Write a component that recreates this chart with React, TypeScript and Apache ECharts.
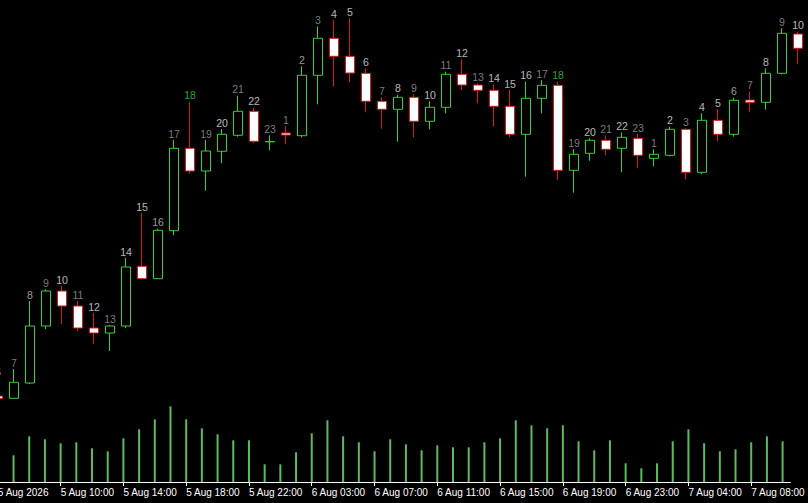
import React, { useEffect, useRef } from "react";
import * as echarts from "echarts";

// Hourly candles (5 Aug 06:00 .. 7 Aug 10:00, no 00:00 bar)
const categories = [
  "5 Aug 06:00", "5 Aug 07:00", "5 Aug 08:00", "5 Aug 09:00", "5 Aug 10:00", "5 Aug 11:00",
  "5 Aug 12:00", "5 Aug 13:00", "5 Aug 14:00", "5 Aug 15:00", "5 Aug 16:00", "5 Aug 17:00",
  "5 Aug 18:00", "5 Aug 19:00", "5 Aug 20:00", "5 Aug 21:00", "5 Aug 22:00", "5 Aug 23:00",
  "6 Aug 01:00", "6 Aug 02:00", "6 Aug 03:00", "6 Aug 04:00", "6 Aug 05:00", "6 Aug 06:00",
  "6 Aug 07:00", "6 Aug 08:00", "6 Aug 09:00", "6 Aug 10:00", "6 Aug 11:00", "6 Aug 12:00",
  "6 Aug 13:00", "6 Aug 14:00", "6 Aug 15:00", "6 Aug 16:00", "6 Aug 17:00", "6 Aug 18:00",
  "6 Aug 19:00", "6 Aug 20:00", "6 Aug 21:00", "6 Aug 22:00", "6 Aug 23:00",
  "7 Aug 01:00", "7 Aug 02:00", "7 Aug 03:00", "7 Aug 04:00", "7 Aug 05:00", "7 Aug 06:00",
  "7 Aug 07:00", "7 Aug 08:00", "7 Aug 09:00", "7 Aug 10:00",
];

const firstTickLabel = "5 Aug 2026";

const opens = [
  2404, 2401.7, 2417, 2474, 2509, 2494, 2472, 2467, 2474, 2533.7, 2521.3, 2569.3, 2651.7,
  2629, 2648.7, 2664.7, 2688.7, 2658.2, 2667, 2664.3, 2724.7, 2761.7, 2743.7, 2726.7,
  2698.7, 2690.7, 2702.7, 2678.7, 2692.7, 2725.7, 2715, 2709.7, 2693.7, 2665.7, 2701.7,
  2714.7, 2629.7, 2646.7, 2659.7, 2651.7, 2661.7, 2641.7, 2644.7, 2670.7, 2627.7, 2679.7,
  2665.7, 2700, 2697.7, 2726.7, 2766,
];
const closes = [
  2401.3, 2417.7, 2474, 2509, 2494, 2472, 2467, 2474, 2533, 2521.3, 2569.7, 2651.7, 2629,
  2649, 2665.7, 2688.7, 2658.7, 2658.4, 2665, 2724.7, 2761.7, 2743.7, 2727, 2698.7,
  2690.7, 2702.7, 2678.7, 2692.7, 2725.7, 2715, 2709.7, 2693.7, 2665.7, 2701.7, 2714.7,
  2629.7, 2645.7, 2659.7, 2650.7, 2662.7, 2644.7, 2645.7, 2670.7, 2627.7, 2679.7, 2665.7,
  2699.7, 2697.7, 2726.7, 2766.7, 2751.7,
];
const lows = [
  2401, 2401.5, 2416, 2471, 2476, 2469, 2456, 2449, 2472, 2520.7, 2521, 2564.7, 2626.3,
  2609.3, 2636.7, 2663.3, 2656.7, 2649.7, 2655.7, 2662.7, 2695.7, 2713.3, 2717.7, 2687.7,
  2671.3, 2658.3, 2662.7, 2670.7, 2686.7, 2710, 2696.7, 2673.3, 2662.7, 2623.3, 2686.7,
  2620.3, 2607.3, 2639.3, 2644.7, 2627.7, 2631.7, 2633.7, 2643.7, 2620.7, 2625.7, 2658.7,
  2663.3, 2687.7, 2690.3, 2725.7, 2735.7,
];
const highs = [
  2422, 2431, 2499, 2510.7, 2514, 2499, 2487, 2475, 2542, 2586.7, 2571.3, 2660, 2698.3,
  2660, 2671, 2704.3, 2692.3, 2664.7, 2674, 2733.7, 2773.7, 2780, 2781.7, 2731.7,
  2702.7, 2705.3, 2705.7, 2698.7, 2728.3, 2740.7, 2716.7, 2715.7, 2710, 2718.3, 2720,
  2718.3, 2651, 2661.7, 2664.7, 2667.7, 2666, 2650.7, 2673.3, 2671.7, 2686.7, 2691,
  2702.3, 2708.3, 2731.7, 2771.7, 2768.3,
];
const volumes = [
  300, 267, 457, 427, 387, 397, 337, 307, 437, 527, 627, 757, 627, 537, 477, 417, 417, 177,
  177, 297, 487, 617, 457, 397, 307, 427, 377, 317, 367, 347, 347, 397, 437, 617, 567, 537,
  567, 407, 317, 417, 187, 137, 187, 407, 527, 387, 307, 327, 397, 457, 407,
];

// style: hour-label tone per candle
const toneColors: Record<string, string> = {
  g: "#9c9c9c",
  l: "#c4c4c4",
  w: "#e6e6e6",
  G: "#3ccf3c",
};
const labelTones = [
  "w", "g", "l", "g", "w", "g", "w", "g", "w", "w", "l", "g", "G", "g", "w", "g", "w", "g",
  "g", "l", "g", "w", "w", "w", "g", "w", "g", "w", "g", "w", "g", "w", "w", "w", "g", "G",
  "g", "w", "g", "w", "g", "g", "w", "g", "w", "w", "l", "g", "w", "g", "w",
];

export default function App() {
  const ref = useRef<HTMLDivElement>(null);

  useEffect(() => {
    if (!ref.current) return;
    const chart = echarts.init(ref.current, null, { renderer: "svg" });

    const candleData = categories.map((_, i) => [opens[i], closes[i], lows[i], highs[i]]);
    const hourLabels = categories.map((c, i) => ({
      value: [i, highs[i]],
      hour: String(parseInt(c.split(" ")[2].split(":")[0], 10)),
      label: { color: toneColors[labelTones[i]] },
    }));

    chart.setOption({
      animation: false,
      backgroundColor: "#000000",
      grid: [
        { left: 0, right: 2, top: 0, bottom: 0 },
        { left: 0, right: 2, top: 382, bottom: 21 },
      ],
      xAxis: [
        {
          type: "category",
          gridIndex: 0,
          data: categories,
          boundaryGap: true,
          show: false,
        },
        {
          type: "category",
          gridIndex: 1,
          data: categories,
          boundaryGap: true,
          axisLine: { show: true, lineStyle: { color: "#ffffff", width: 1 } },
          axisTick: {
            show: true,
            alignWithLabel: true,
            interval: 3,
            length: 4,
            lineStyle: { color: "#ffffff", width: 1 },
          },
          axisLabel: {
            show: true,
            interval: 3,
            align: "left",
            margin: 5,
            color: "#ffffff",
            fontFamily: "Liberation Sans, Arial, sans-serif",
            fontSize: 10,
            formatter: (v: string, i: number) => (i === 0 ? firstTickLabel : v),
          },
          splitLine: { show: false },
        },
      ],
      yAxis: [
        { type: "value", gridIndex: 0, min: 2297, max: 2800, show: false, splitLine: { show: false } },
        { type: "value", gridIndex: 1, min: 0, max: 1000, show: false, splitLine: { show: false } },
      ],
      series: [
        {
          type: "bar",
          xAxisIndex: 1,
          yAxisIndex: 1,
          data: volumes,
          barWidth: 2,
          itemStyle: { color: "#5fba5f" },
          silent: true,
        },
        {
          type: "candlestick",
          xAxisIndex: 0,
          yAxisIndex: 0,
          data: candleData,
          barWidth: 9,
          itemStyle: {
            color: "#000000",
            color0: "#ffffff",
            borderColor: "#38d038",
            borderColor0: "#d01c1c",
            borderWidth: 1,
          },
          silent: true,
        },
        {
          type: "scatter",
          xAxisIndex: 0,
          yAxisIndex: 0,
          data: hourLabels,
          symbolSize: 0,
          silent: true,
          label: {
            show: true,
            position: "top",
            distance: 1,
            fontFamily: "Liberation Sans, Arial, sans-serif",
            fontSize: 10.5,
            formatter: (p: any) => p.data.hour,
          },
        },
      ],
    });

    return () => chart.dispose();
  }, []);

  return (
    <div
      ref={ref}
      style={{ position: "fixed", left: -10, top: 0, width: 818, height: 503, background: "#000" }}
    />
  );
}
